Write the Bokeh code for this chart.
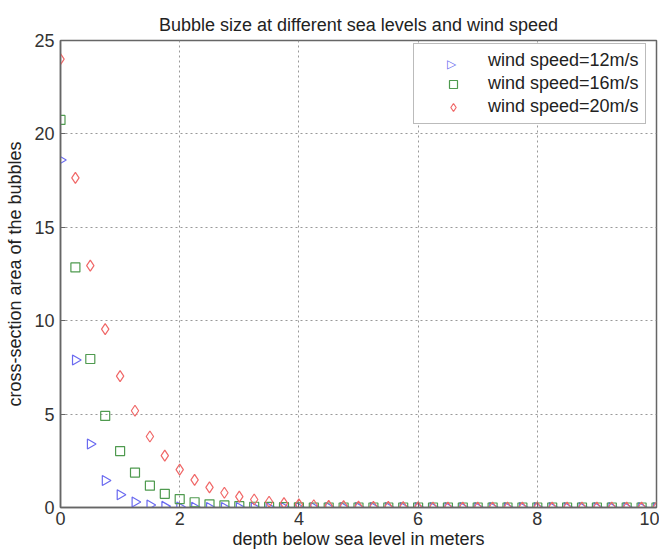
import math
from bokeh.plotting import figure
from bokeh.models import Range1d, Legend, LegendItem, FixedTicker
from bokeh.embed import file_html
from bokeh.resources import INLINE

depth = [0.0, 0.25, 0.5, 0.75, 1.0, 1.25, 1.5, 1.75, 2.0, 2.25, 2.5, 2.75, 3.0, 3.25,
         3.5, 3.75, 4.0, 4.25, 4.5, 4.75, 5.0, 5.25, 5.5, 5.75, 6.0, 6.25, 6.5, 6.75,
         7.0, 7.25, 7.5, 7.75, 8.0, 8.25, 8.5, 8.75, 9.0, 9.25, 9.5, 9.75, 10.0]

area_12 = [18.6, 7.9, 3.4, 1.45, 0.68, 0.3, 0.13, 0.06, 0.03, 0.01, 0.0, 0.0, 0.0, 0.0,
           0.0, 0.0, 0.0, 0.0, 0.0, 0.0, 0.0, 0.0, 0.0, 0.0, 0.0, 0.0, 0.0, 0.0,
           0.0, 0.0, 0.0, 0.0, 0.0, 0.0, 0.0, 0.0, 0.0, 0.0, 0.0, 0.0, 0.0]

area_16 = [20.75, 12.85, 7.95, 4.9, 3.02, 1.87, 1.17, 0.73, 0.45, 0.28, 0.17, 0.11, 0.07, 0.04,
           0.03, 0.02, 0.01, 0.0, 0.0, 0.0, 0.0, 0.0, 0.0, 0.0, 0.0, 0.0, 0.0, 0.0,
           0.0, 0.0, 0.0, 0.0, 0.0, 0.0, 0.0, 0.0, 0.0, 0.0, 0.0, 0.0, 0.0]

area_20 = [24.0, 17.65, 12.95, 9.55, 7.03, 5.18, 3.8, 2.78, 2.03, 1.48, 1.08, 0.79, 0.58, 0.43,
           0.31, 0.23, 0.17, 0.12, 0.09, 0.07, 0.05, 0.04, 0.03, 0.02, 0.01, 0.0, 0.0, 0.0,
           0.0, 0.0, 0.0, 0.0, 0.0, 0.0, 0.0, 0.0, 0.0, 0.0, 0.0, 0.0, 0.0]

labels = ["wind speed=12m/s", "wind speed=16m/s", "wind speed=20m/s"]
x_ticks = [0, 2, 4, 6, 8, 10]
y_ticks = [0, 5, 10, 15, 20, 25]

FONT = "Liberation Sans"
FS = "18px"
BLUE = "#6a6af0"
GREEN = "#4f9a4f"
RED = "#f06868"

p = figure(width=659, height=553, output_backend="svg", toolbar_location=None,
           x_range=Range1d(0, 10), y_range=Range1d(0, 25),
           min_border_left=60, min_border_right=3, min_border_top=40, min_border_bottom=46,
           title="Bubble size at different sea levels and wind speed")

p.title.align = "center"
p.title.vertical_align = "middle"
p.title.text_font = FONT
p.title.text_font_size = FS
p.title.text_font_style = "normal"
p.title.text_color = "#222222"

p.outline_line_color = "#666666"
p.outline_line_width = 1.5
p.background_fill_color = "white"
p.border_fill_color = "white"

for ax in (p.xaxis[0], p.yaxis[0]):
    ax.axis_line_color = "#666666"
    ax.axis_line_width = 1.5
    ax.major_tick_in = 5
    ax.major_tick_out = 0
    ax.major_tick_line_color = "#666666"
    ax.minor_tick_line_color = None
    ax.major_label_text_font = FONT
    ax.major_label_text_font_size = FS
    ax.major_label_text_color = "#333333"
    ax.axis_label_text_font = FONT
    ax.axis_label_text_font_size = FS
    ax.axis_label_text_font_style = "normal"
    ax.axis_label_text_color = "#222222"

p.xaxis.ticker = FixedTicker(ticks=x_ticks)
p.yaxis.ticker = FixedTicker(ticks=y_ticks)
p.xaxis.axis_label = "depth below sea level in meters"
p.yaxis.axis_label = "cross-section area of the bubbles"
p.xaxis.major_label_standoff = 4
p.xaxis.axis_label_standoff = 1
p.yaxis.major_label_standoff = 6
p.yaxis.axis_label_standoff = 6

for g in (p.xgrid[0], p.ygrid[0]):
    g.grid_line_color = "#999999"
    g.grid_line_dash = "2 3"
    g.grid_line_width = 1

r1 = p.scatter(depth, area_12, marker="triangle", angle=-math.pi / 2, size=10,
               fill_color=None, line_color=BLUE, line_width=1.2)
r2 = p.scatter(depth, area_16, marker="square", size=9,
               fill_color=None, line_color=GREEN, line_width=1.2)
r3 = p.scatter(depth, area_20, marker="diamond", size=11,
               fill_color=None, line_color=RED, line_width=1.2)
# legend stand-in for the blue series (legend glyphs are never rotated)
r1_key = p.scatter([], [], marker="triangle", size=1, fill_alpha=0, line_alpha=0)

legend = Legend(items=[LegendItem(label=labels[0], renderers=[r1_key]),
                       LegendItem(label=labels[1], renderers=[r2]),
                       LegendItem(label=labels[2], renderers=[r3])],
                location=(353, 383))
legend.label_text_font = FONT
legend.label_text_font_size = FS
legend.label_text_color = "#222222"
legend.glyph_width = 66
legend.label_standoff = 2
legend.label_height = 20
legend.glyph_height = 20
legend.spacing = 2
legend.padding = 6
legend.margin = 0
legend.border_line_color = "#777777"
legend.border_line_width = 1
legend.background_fill_color = "white"
legend.background_fill_alpha = 1
p.add_layout(legend)

# right-pointing key symbol for the blue series, drawn as a tiny borderless legend
key = Legend(items=[LegendItem(label="\u25b7", renderers=[r1_key])],
             location=(387, 433))
key.label_text_font = "DejaVu Sans"
key.label_text_font_size = "12px"
key.label_text_color = BLUE
key.glyph_width = 0
key.glyph_height = 20
key.label_height = 20
key.label_standoff = 0
key.padding = 0
key.margin = 0
key.spacing = 0
key.border_line_color = None
key.background_fill_alpha = 0
p.add_layout(key)

open("out.html", "w").write(file_html(p, INLINE))
